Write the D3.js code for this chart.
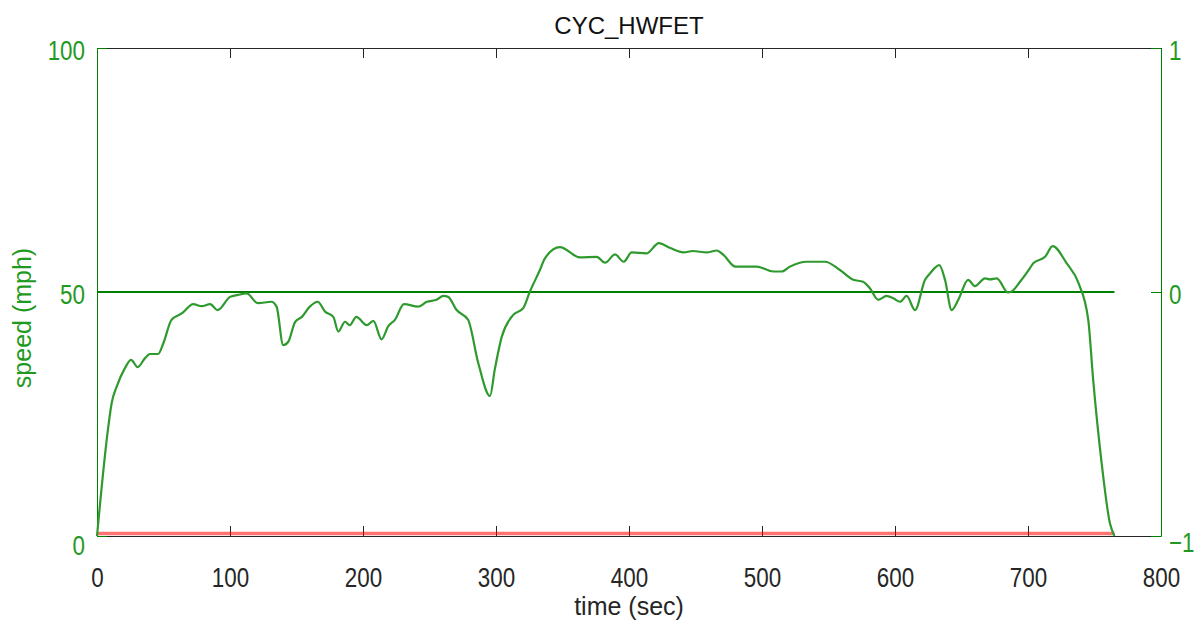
<!DOCTYPE html>
<html>
<head>
<meta charset="utf-8">
<script src="https://cdn.jsdelivr.net/npm/d3@7"></script>
<style>
    body { margin: 0; background: #fff; }
    svg { display: block; font-family: "Liberation Sans", Arial, sans-serif; }
</style>
</head>
<body>
<div id="chart"></div>
<script>
// speed trace (time in sec, speed in mph)
const timeSec = [0, 8.5, 11, 14.8, 21, 25.6, 30.6, 36, 39.8, 46, 49.9, 56, 63.7, 72.4, 78.7, 85, 90.7,
    100, 106, 112.5, 121, 131, 135, 140, 143.8, 149, 154, 160, 166, 171.4, 177.7, 181.4, 186.5, 190,
    195, 202.8, 207.8, 214, 219, 224, 230.8, 241.6, 248, 255.4, 260.4, 264, 270.4, 279, 286.7, 295.5,
    299, 304.3, 313, 320.5, 325.5, 333, 336.8, 348, 363, 375.7, 382, 389.5, 396, 402, 413, 422.5,
    431, 441, 448, 458.4, 466, 471, 480, 496, 508.5, 514.8, 521, 533.6, 547.4, 558.6, 568.6, 576,
    581, 587.4, 593.7, 598.7, 603.8, 608.8, 615, 622.6, 626.3, 633.3, 637.6, 642.6, 647.6, 655, 660,
    667.7, 671.4, 676.5, 685, 687.7, 694, 701.5, 704, 712.8, 718.6, 729, 738, 745.3, 749, 755.4,
    761.6, 765];
const speedMph = [0, 22.4, 27.2, 30.6, 34.4, 36.1, 34.6, 36.4, 37.3, 37.3, 39.5, 44.3, 45.6, 47.5, 47.1,
    47.5, 46.3, 49.0, 49.4, 49.7, 47.7, 48.0, 47.0, 39.1, 39.8, 43.9, 44.9, 47.0, 48.0, 46.0, 44.9,
    41.9, 43.9, 43.2, 44.9, 43.2, 44.1, 40.3, 43.0, 44.3, 47.5, 47.0, 48.0, 48.4, 49.2, 49.0, 46.3,
    44.3, 35.4, 28.7, 34.0, 40.8, 45.3, 46.7, 50.1, 54.5, 56.9, 59.2, 57.1, 57.2, 56.0, 57.7, 56.2,
    58.1, 57.9, 60.0, 59.0, 58.1, 58.4, 58.1, 58.5, 57.6, 55.2, 55.2, 54.2, 54.2, 55.2, 56.2, 56.2,
    54.5, 52.5, 52.1, 50.8, 48.4, 49.2, 48.7, 48.0, 49.2, 46.3, 52.5, 53.8, 55.5, 52.5, 46.3, 48.4,
    52.5, 51.2, 52.8, 52.6, 52.8, 49.9, 50.1, 52.1, 54.9, 55.9, 57.2, 59.4, 55.9, 51.8, 44.3, 32.0,
    14.9, 2.6, 0];

// the two flat traces
const flatTime = [0, 765];
const redSpeed = [0.5, 0.5];      // left axis (mph)
const greenRight = [0, 0];        // right axis

const xTicks = [0, 100, 200, 300, 400, 500, 600, 700, 800];
const leftTicks = [0, 50, 100];
const rightTicks = [-1, 0, 1];

const chartTitle = "CYC_HWFET",
    xLabel = "time (sec)",
    yLabel = "speed (mph)";

const svgWidth = 1195,
    svgHeight = 626,
    margin = { top: 48, left: 97, right: 34, bottom: 90 },
    width = svgWidth - margin.left - margin.right,
    height = svgHeight - margin.top - margin.bottom,
    green = "#008000",
    labelGreen = "#1f9a1f",
    ink = "#262626",
    tick = 10;

const svg = d3.select("#chart").append("svg")
    .attr("width", svgWidth)
    .attr("height", svgHeight);

const g = svg.append("g")
    .attr("transform", `translate(${margin.left},${margin.top})`);

const x = d3.scaleLinear().domain([0, 800]).range([0, width]),
    yLeft = d3.scaleLinear().domain([0, 100]).range([height, 0]),
    yRight = d3.scaleLinear().domain([-1, 1]).range([height, 0]);

// squeeze tick digits a bit, like the source renderer
function squeeze(sel, origin) {
    sel.style("transform-box", "fill-box")
        .style("transform-origin", origin)
        .style("transform", "scaleX(0.8)");
}

// top + bottom (black)
g.append("g")
    .call(d3.axisTop(x).tickValues(xTicks).tickSizeInner(-tick).tickSizeOuter(0).tickFormat(""))
    .call(a => a.selectAll("path, line").attr("stroke", ink));

const xAxis = g.append("g")
    .attr("transform", `translate(0,${height})`)
    .call(d3.axisBottom(x).tickValues(xTicks).tickSizeInner(-tick).tickSizeOuter(0));
xAxis.selectAll("path, line").attr("stroke", ink);
xAxis.selectAll("text")
    .attr("y", 51).attr("dy", null)
    .attr("fill", ink)
    .style("font-size", "28px")
    .call(squeeze, "center");

// left (green)
const leftAxis = g.append("g")
    .call(d3.axisLeft(yLeft).tickValues(leftTicks).tickSizeInner(-tick).tickSizeOuter(0));
leftAxis.selectAll("path, line").attr("stroke", green);
leftAxis.selectAll("text")
    .attr("x", -12).attr("dy", d => d === 0 ? "18px" : "11px")
    .attr("fill", labelGreen)
    .style("font-size", "28px")
    .call(squeeze, "right center");

// right (green)
const rightAxis = g.append("g")
    .attr("transform", `translate(${width},0)`)
    .call(d3.axisRight(yRight).tickValues(rightTicks).tickFormat(d3.format("d"))
        .tickSizeInner(-tick).tickSizeOuter(0));
rightAxis.selectAll("path, line").attr("stroke", green);
rightAxis.selectAll("text")
    .attr("x", 8).attr("dy", d => d === -1 ? "15px" : "11px")
    .attr("fill", labelGreen)
    .style("font-size", "28px")
    .call(squeeze, "left center");

// flat traces
g.append("path")
    .datum(flatTime.map((t, i) => [t, redSpeed[i]]))
    .attr("fill", "none")
    .attr("stroke", "rgba(255, 0, 0, 0.55)")
    .attr("stroke-width", 3.5)
    .attr("d", d3.line().x(d => x(d[0])).y(d => yLeft(d[1])));

g.append("path")
    .datum(flatTime.map((t, i) => [t, greenRight[i]]))
    .attr("fill", "none")
    .attr("stroke", green)
    .attr("stroke-width", 2)
    .attr("d", d3.line().x(d => x(d[0])).y(d => yRight(d[1])));

// speed trace
g.append("path")
    .datum(timeSec.map((t, i) => [t, speedMph[i]]))
    .attr("fill", "none")
    .attr("stroke", "#2e9a2e")
    .attr("stroke-width", 2.2)
    .attr("stroke-linejoin", "round")
    .attr("d", d3.line().curve(d3.curveMonotoneX).x(d => x(d[0])).y(d => yLeft(d[1])));

// labels
svg.append("text")
    .attr("x", margin.left + width / 2)
    .attr("y", 34)
    .attr("text-anchor", "middle")
    .attr("fill", "#111")
    .style("font-size", "24px")
    .text(chartTitle);

svg.append("text")
    .attr("x", margin.left + width / 2)
    .attr("y", 615)
    .attr("text-anchor", "middle")
    .attr("fill", ink)
    .style("font-size", "25px")
    .text(xLabel);

svg.append("text")
    .attr("transform", `translate(31,318) rotate(-90)`)
    .attr("text-anchor", "middle")
    .attr("fill", labelGreen)
    .style("font-size", "25px")
    .text(yLabel);
</script>
</body>
</html>
